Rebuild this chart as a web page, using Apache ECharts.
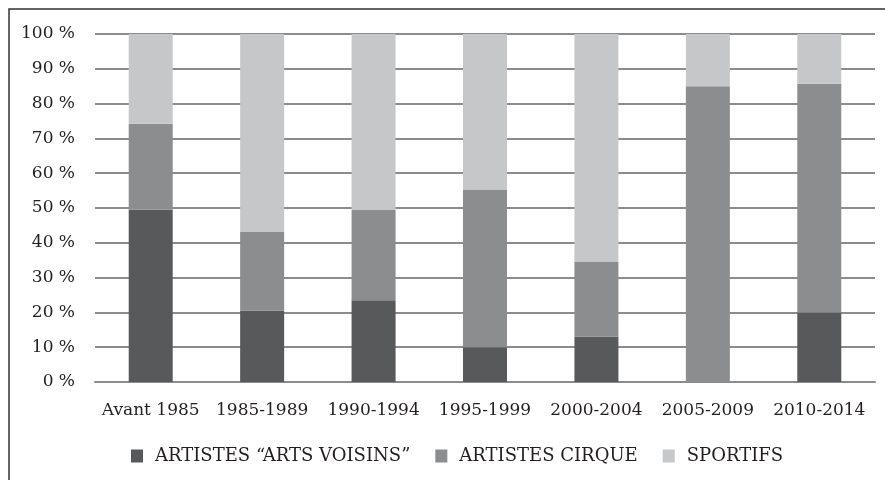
<!DOCTYPE html>
<html>
<head>
<meta charset="utf-8">
<script src="https://cdn.jsdelivr.net/npm/echarts@6/dist/echarts.min.js"></script>
<style>
  html, body { margin: 0; padding: 0; background: #fff; }
  #chart { width: 885px; height: 480px; }
</style>
</head>
<body>
<div id="chart"></div>
<script>
// periods on the x axis
const categories = ['Avant 1985', '1985-1989', '1990-1994', '1995-1999', '2000-2004', '2005-2009', '2010-2014'];

// shares in percent
const artistesArtsVoisins = [49.5, 20.5, 23.5, 10, 13, 0, 20];
const artistesCirque = [24.7, 22.6, 25.9, 45.2, 21.5, 85, 65.7];
const sportifs = [25.8, 56.9, 50.6, 44.8, 65.5, 15, 14.3];

const serif = 'DejaVu Serif';
const gridGray = '#8c8c8c';
const textColor = '#231f20';

const chart = echarts.init(document.getElementById('chart'));

const option = {
  animation: false,
  backgroundColor: '#fff',
  graphic: [
    {
      type: 'rect',
      shape: { x: 9, y: 9, width: 900, height: 500 },
      style: { fill: 'none', stroke: '#333', lineWidth: 1.5 },
      silent: true
    }
  ],
  grid: { left: 95, right: 10, top: 34, bottom: 98 },
  legend: {
    left: 126,
    top: 442,
    icon: 'rect',
    itemWidth: 12,
    itemHeight: 13,
    itemGap: 25,
    textStyle: { fontFamily: serif, fontSize: 18, color: textColor, padding: [0, 0, 0, 7] },
    data: ['ARTISTES “ARTS VOISINS”', 'ARTISTES CIRQUE', 'SPORTIFS']
  },
  xAxis: {
    type: 'category',
    data: categories,
    axisLine: { show: true, lineStyle: { color: gridGray, width: 2 } },
    axisTick: { show: false },
    axisLabel: { interval: 0, fontFamily: serif, fontSize: 17, color: textColor, margin: 20 }
  },
  yAxis: {
    type: 'value',
    min: 0,
    max: 100,
    interval: 10,
    axisLine: { show: false },
    axisTick: { show: false },
    axisLabel: { formatter: '{value} %', fontFamily: serif, fontSize: 17, color: textColor, margin: 20 },
    splitLine: { lineStyle: { color: gridGray, width: 2 } }
  },
  series: [
    {
      name: 'ARTISTES “ARTS VOISINS”',
      type: 'bar',
      stack: 'total',
      barWidth: 44,
      itemStyle: { color: '#58595b' },
      data: artistesArtsVoisins
    },
    {
      name: 'ARTISTES CIRQUE',
      type: 'bar',
      stack: 'total',
      barWidth: 44,
      itemStyle: { color: '#8c8d8f' },
      data: artistesCirque
    },
    {
      name: 'SPORTIFS',
      type: 'bar',
      stack: 'total',
      barWidth: 44,
      itemStyle: { color: '#c6c7c9' },
      data: sportifs
    }
  ]
};

chart.setOption(option);
</script>
</body>
</html>
